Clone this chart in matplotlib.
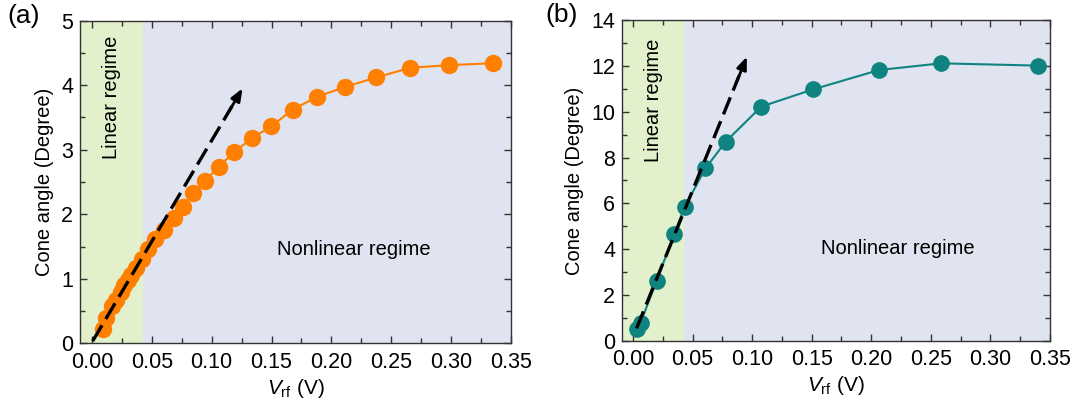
import matplotlib
matplotlib.use("Agg")
import matplotlib.pyplot as plt
from matplotlib.ticker import MultipleLocator, FormatStrFormatter

plt.rcParams['font.family'] = ['Liberation Sans', 'DejaVu Sans']
plt.rcParams['mathtext.fontset'] = 'custom'
plt.rcParams['mathtext.rm'] = 'Liberation Sans'
plt.rcParams['mathtext.it'] = 'Liberation Sans:italic'

# ---- data ----
va = [0.009, 0.012, 0.017, 0.020, 0.024, 0.027, 0.030, 0.033, 0.037, 0.0417,
      0.0472, 0.053, 0.0605, 0.0682, 0.076, 0.0846, 0.0947, 0.106, 0.1186,
      0.1336, 0.1497, 0.1675, 0.188, 0.211, 0.2375, 0.266, 0.298, 0.335]
ang_a = [0.22, 0.40, 0.58, 0.67, 0.80, 0.90, 0.98, 1.06, 1.17, 1.30,
         1.46, 1.61, 1.76, 1.94, 2.12, 2.33, 2.52, 2.74, 2.96,
         3.18, 3.36, 3.62, 3.82, 3.97, 4.12, 4.27, 4.31, 4.34]

vb = [0.0038, 0.0064, 0.0199, 0.0345, 0.0433, 0.0608, 0.0778, 0.1076,
      0.1509, 0.2067, 0.2588, 0.340]
ang_b = [0.51, 0.80, 2.63, 4.65, 5.83, 7.53, 8.69, 10.22, 10.97, 11.82,
         12.11, 12.01]

linear_edge = 0.043
arrow_a = [(0.0006, 0.036), (0.1258, 3.95)]
arrow_b = [(0.003, 0.55), (0.0956, 12.40)]

orange = '#FF8000'
teal = '#0F837F'
green_bg = '#E2F0CB'
blue_bg = '#E0E3F0'

fig = plt.figure(figsize=(10.85, 4.04), dpi=100)
ax1 = fig.add_axes([0.0737, 0.150, 0.3973, 0.799])
ax2 = fig.add_axes([0.5735, 0.156, 0.3942, 0.7945])


def style(ax, xlim, ylim, ymaj, ymin):
    ax.set_xlim(*xlim)
    ax.set_ylim(*ylim)
    ax.set_facecolor(blue_bg)
    ax.axvspan(xlim[0], linear_edge, color=green_bg, zorder=0, lw=0)
    ax.xaxis.set_major_locator(MultipleLocator(0.05))
    ax.xaxis.set_minor_locator(MultipleLocator(0.025))
    ax.xaxis.set_major_formatter(FormatStrFormatter('%.2f'))
    ax.yaxis.set_major_locator(MultipleLocator(ymaj))
    ax.yaxis.set_minor_locator(MultipleLocator(ymin))
    ax.tick_params(which='both', direction='in', top=True, right=True,
                   labelsize=15.5, colors='#333333', labelcolor='black')
    ax.tick_params(which='major', length=5, width=1)
    ax.tick_params(axis='x', which='major', pad=6)
    ax.tick_params(axis='y', which='major', pad=5)
    ax.tick_params(which='minor', length=3.5, width=1)
    for s in ax.spines.values():
        s.set_color('#333333')
        s.set_linewidth(1.0)
    ax.set_xlabel(r'$\mathit{V}_{\mathrm{rf}}$ (V)', fontsize=15, labelpad=3)
    ax.set_ylabel('Cone angle (Degree)', fontsize=14.5, labelpad=5)


def dashed_arrow(ax, pts):
    (x0, y0), (x1, y1) = pts
    ax.plot([x0, x0 + 0.93 * (x1 - x0)], [y0, y0 + 0.93 * (y1 - y0)],
            color='black', lw=2.4, dashes=(5.5, 2.2), zorder=4,
            solid_capstyle='butt', dash_capstyle='butt')
    ax.annotate('', xy=(x1, y1),
                xytext=(x0 + 0.9 * (x1 - x0), y0 + 0.9 * (y1 - y0)),
                arrowprops=dict(arrowstyle='-|>,head_length=0.75,head_width=0.3',
                                color='black', lw=2, shrinkA=0, shrinkB=0),
                zorder=4)


style(ax1, (-0.01, 0.35), (0, 5), 1, 0.5)
ax1.plot(va, ang_a, '-o', color=orange, lw=1.5, ms=11.5, zorder=3)
dashed_arrow(ax1, arrow_a)
ax1.text(0.219, 1.46, 'Nonlinear regime', fontsize=14.5, ha='center', va='center')
ax1.text(0.0165, 3.81, 'Linear regime', fontsize=14.5, rotation=90,
         ha='center', va='center')

style(ax2, (-0.009, 0.35), (0, 14), 2, 1)
ax2.plot(vb, ang_b, '-o', color=teal, lw=1.5, ms=11, zorder=3)
dashed_arrow(ax2, arrow_b)
ax2.text(0.222, 4.04, 'Nonlinear regime', fontsize=14.5, ha='center', va='center')
ax2.text(0.017, 10.48, 'Linear regime', fontsize=14.5, rotation=90,
         ha='center', va='center')

fig.text(0.022, 0.960, '(a)', fontsize=19, ha='center', va='center')
fig.text(0.518, 0.963, '(b)', fontsize=19, ha='center', va='center')

fig.savefig('out.png', dpi=100)
